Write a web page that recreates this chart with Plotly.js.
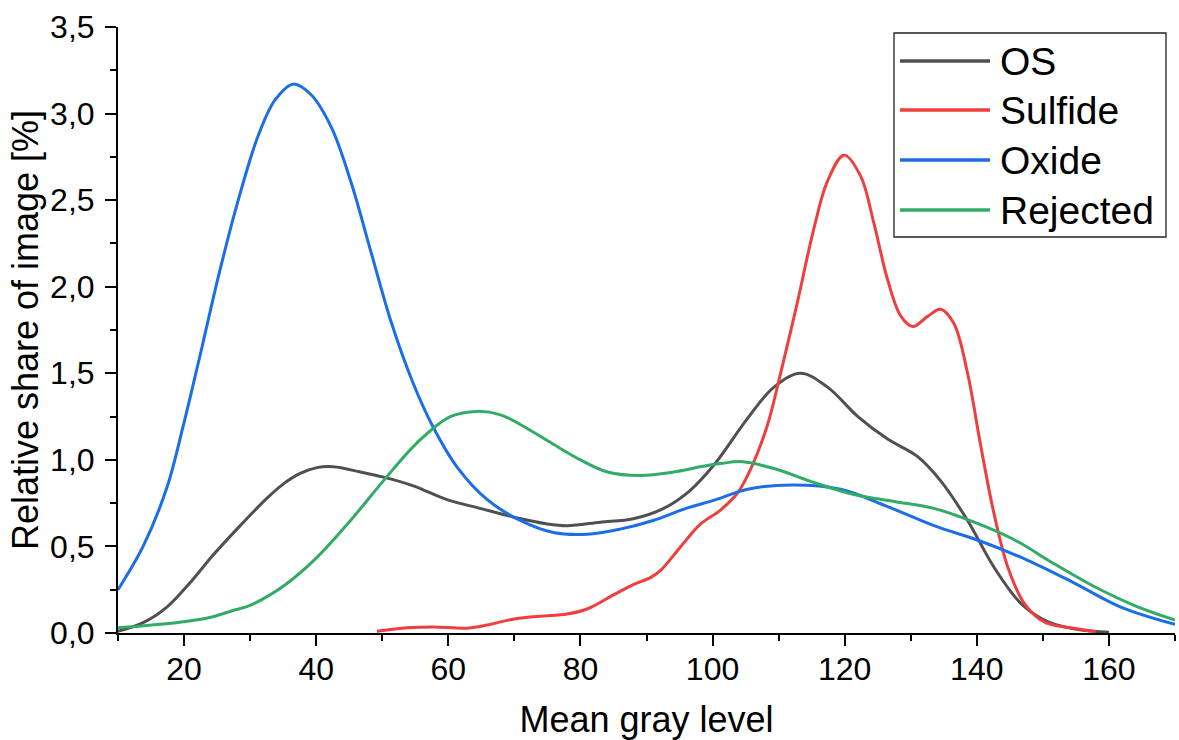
<!DOCTYPE html>
<html>
<head>
<meta charset="utf-8">
<script src="https://cdn.plot.ly/plotly-3.0.1.min.js"></script>
<style>
  html, body { margin: 0; padding: 0; background: #ffffff; }
  #chart { width: 1179px; height: 740px; }
</style>
</head>
<body>
<div id="chart"></div>
<script>
// Gray-level distributions per particle class (relative share of image, %)
const seriesNames = ["OS", "Sulfide", "Oxide", "Rejected"];

const osX = [10, 13.8, 17.4, 20.9, 24.4, 28.5, 32.6, 35, 37.5, 40.1, 42.6, 46.7, 50.2, 54.7, 59.8, 64.8, 69.8, 75, 78, 83, 88, 92.6, 96.5, 100.2, 105.3, 109.3, 113.3, 117.4, 122, 126.5, 131, 134.5, 138.6, 142.6, 146.7, 150.8, 155.8, 160];
const osY = [0.01, 0.06, 0.15, 0.29, 0.45, 0.62, 0.78, 0.86, 0.92, 0.955, 0.96, 0.93, 0.90, 0.85, 0.77, 0.72, 0.67, 0.63, 0.62, 0.64, 0.66, 0.72, 0.82, 0.97, 1.24, 1.42, 1.50, 1.42, 1.25, 1.12, 1.02, 0.88, 0.65, 0.38, 0.17, 0.064, 0.017, 0.005];

const sulfideX = [49.2, 53.8, 57.7, 62.9, 65.9, 69.8, 73.9, 78, 81.1, 85, 88, 90.6, 92.1, 95.2, 98.2, 101.2, 103.8, 105.8, 108.3, 110.3, 112.9, 115.3, 117.4, 119.9, 122.4, 124.4, 126.5, 128.5, 130.3, 132.6, 134.5, 136.5, 138.6, 140.6, 142.6, 144.7, 147.2, 150.2, 154.2, 158];
const sulfideY = [0.01, 0.03, 0.035, 0.028, 0.046, 0.08, 0.097, 0.11, 0.14, 0.22, 0.28, 0.32, 0.36, 0.50, 0.63, 0.71, 0.81, 0.95, 1.20, 1.50, 1.92, 2.33, 2.61, 2.76, 2.64, 2.37, 2.04, 1.83, 1.77, 1.83, 1.87, 1.79, 1.50, 1.08, 0.69, 0.38, 0.17, 0.064, 0.03, 0.008];

const oxideX = [10, 13.8, 17.4, 19.9, 22.4, 25.2, 28.2, 31.2, 33.8, 36.5, 39.2, 42.3, 45.3, 48.3, 51.4, 54.6, 57.7, 61.3, 65.9, 70.9, 75.9, 81, 86, 91, 96, 100.5, 105.3, 112, 119.4, 126.5, 133.5, 140.6, 147.7, 154.7, 161.8, 170];
const oxideY = [0.25, 0.50, 0.84, 1.20, 1.60, 2.06, 2.50, 2.87, 3.08, 3.17, 3.11, 2.92, 2.60, 2.20, 1.79, 1.45, 1.19, 0.96, 0.77, 0.65, 0.58, 0.57, 0.60, 0.65, 0.72, 0.77, 0.83, 0.855, 0.83, 0.73, 0.62, 0.53, 0.42, 0.29, 0.15, 0.05];

const rejectedX = [10, 14.8, 19.9, 23.9, 27.4, 30, 35, 40.2, 45.2, 50.2, 55.3, 60.3, 64.4, 67.9, 72, 75.9, 80, 84.1, 89.1, 94.1, 98.2, 101.5, 104.2, 109.3, 115.3, 121.4, 127.5, 133.5, 139.6, 145.6, 151.7, 157.7, 163.8, 170];
const rejectedY = [0.03, 0.045, 0.065, 0.09, 0.13, 0.16, 0.27, 0.44, 0.65, 0.88, 1.10, 1.25, 1.28, 1.26, 1.18, 1.09, 1.00, 0.93, 0.91, 0.93, 0.96, 0.98, 0.99, 0.95, 0.87, 0.80, 0.76, 0.72, 0.64, 0.54, 0.40, 0.27, 0.16, 0.075];

const seriesColors = ["#505050", "#ef3e3e", "#1c6ee6", "#31ab66"];
const seriesX = [osX, sulfideX, oxideX, rejectedX];
const seriesY = [osY, sulfideY, oxideY, rejectedY];

const FONT = "Arial, 'Liberation Sans', sans-serif";

const traces = seriesNames.map((name, i) => ({
  type: "scatter",
  mode: "lines",
  name: name,
  x: seriesX[i],
  y: seriesY[i],
  line: { color: seriesColors[i], width: 3, shape: "spline", smoothing: 1 },
  showlegend: false,
  hoverinfo: "x+y+name"
}));

// Plot-area geometry in pixels, used to place the boxed key
const M = { l: 118, r: 4, t: 27, b: 107 };
const W = 1179, H = 740;
const PW = W - M.l - M.r, PH = H - M.t - M.b;
const fx = px => (px - M.l) / PW;
const fy = py => (H - M.b - py) / PH;

const shapes = [{
  type: "rect", xref: "paper", yref: "paper",
  x0: fx(894), x1: fx(1166), y0: fy(237), y1: fy(33),
  line: { color: "#222222", width: 1.3 }, fillcolor: "rgba(255,255,255,0)"
}];
const annotations = [];
const rowY = [61, 110, 160, 210];
seriesNames.forEach((name, i) => {
  shapes.push({
    type: "line", xref: "paper", yref: "paper",
    x0: fx(900), x1: fx(990), y0: fy(rowY[i]), y1: fy(rowY[i]),
    line: { color: seriesColors[i], width: 3.5 }
  });
  annotations.push({
    xref: "paper", yref: "paper", x: fx(998), y: fy(rowY[i]),
    xanchor: "left", yanchor: "middle", showarrow: false,
    text: name, font: { family: FONT, size: 39, color: "#000000" }
  });
});

const layout = {
  width: W, height: H,
  margin: M,
  paper_bgcolor: "#ffffff",
  plot_bgcolor: "#ffffff",
  separators: ",.",
  font: { family: FONT, color: "#000000", size: 32 },
  showlegend: false,
  xaxis: {
    range: [10, 170],
    tick0: 0, dtick: 20,
    ticks: "outside", ticklen: 11, tickwidth: 2, tickcolor: "#000000",
    minor: { dtick: 10, tick0: 0, ticks: "outside", ticklen: 6, tickwidth: 2, tickcolor: "#000000" },
    showline: true, linecolor: "#000000", linewidth: 2,
    showgrid: false, zeroline: false,
    tickfont: { family: FONT, size: 32, color: "#000000" },
    ticklabelstandoff: -4,
    title: { text: "Mean gray level", font: { family: FONT, size: 36, color: "#000000" }, standoff: 23 }
  },
  yaxis: {
    range: [0, 3.5],
    tick0: 0, dtick: 0.5, tickformat: ".1f",
    ticks: "outside", ticklen: 11, tickwidth: 2, tickcolor: "#000000",
    minor: { dtick: 0.25, tick0: 0, ticks: "outside", ticklen: 6, tickwidth: 2, tickcolor: "#000000" },
    showline: true, linecolor: "#000000", linewidth: 2,
    showgrid: false, zeroline: false,
    tickfont: { family: FONT, size: 32, color: "#000000" },
    ticklabelstandoff: 4,
    title: { text: "Relative share of image [%]", font: { family: FONT, size: 36, color: "#000000" }, standoff: 1 }
  },
  shapes: shapes,
  annotations: annotations
};

Plotly.newPlot("chart", traces, layout, { displayModeBar: false, staticPlot: true });
</script>
</body>
</html>
